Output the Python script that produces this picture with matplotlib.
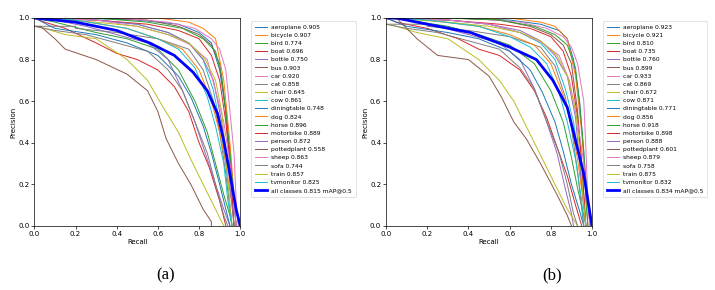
import matplotlib.pyplot as plt

names = ['aeroplane', 'bicycle', 'bird', 'boat', 'bottle', 'bus', 'car', 'cat', 'chair', 'cow',
         'diningtable', 'dog', 'horse', 'motorbike', 'person', 'pottedplant', 'sheep', 'sofa',
         'train', 'tvmonitor']

# AP per class
ap_a = [0.905, 0.907, 0.774, 0.696, 0.750, 0.903, 0.920, 0.858, 0.645, 0.861,
        0.748, 0.824, 0.896, 0.889, 0.872, 0.558, 0.863, 0.744, 0.857, 0.825]
ap_b = [0.923, 0.921, 0.810, 0.735, 0.760, 0.899, 0.933, 0.869, 0.672, 0.871,
        0.771, 0.856, 0.918, 0.898, 0.888, 0.601, 0.879, 0.758, 0.875, 0.832]
map_a = 0.815
map_b = 0.834

# (recall, precision) points
curves_a = [
    ([0, .2, .5, .7, .8, .86, .9, .93, .95, .97, .98], [1, 1, .99, .97, .93, .88, .75, .55, .35, .12, 0]),
    ([0, .3, .6, .75, .82, .88, .92, .95, .97, .98], [1, 1, 1, .98, .95, .9, .7, .4, .15, 0]),
    ([0, .1, .3, .45, .6, .7, .78, .84, .88, .92, .95, .96], [1, .98, .93, .9, .85, .75, .6, .45, .3, .15, .05, 0]),
    ([0, .05, .15, .3, .4, .5, .6, .68, .75, .8, .85, .9, .93], [1, .98, .95, .88, .83, .8, .75, .67, .55, .4, .28, .12, 0]),
    ([0, .1, .25, .4, .55, .65, .72, .78, .83, .88, .92, .95], [1, .99, .96, .92, .88, .8, .65, .5, .35, .2, .08, 0]),
    ([0, .3, .55, .7, .8, .86, .9, .93, .95, .97], [1, 1, .99, .96, .92, .87, .78, .55, .3, 0]),
    ([0, .4, .65, .78, .86, .9, .93, .95, .97, .98, .99], [1, 1, .98, .95, .9, .85, .75, .55, .35, .12, 0]),
    ([0, .2, .2, .4, .6, .75, .82, .87, .9, .93, .95, .96], [.96, .96, .95, .93, .9, .85, .75, .6, .45, .25, .08, 0]),
    ([0, .05, .15, .3, .45, .55, .62, .7, .76, .82, .87, .92], [.96, .95, .92, .9, .8, .7, .58, .45, .32, .2, .1, 0]),
    ([0, .3, .5, .65, .75, .82, .87, .9, .93, .95, .96], [1, .99, .97, .93, .88, .8, .65, .5, .3, .1, 0]),
    ([0, .1, .3, .45, .6, .7, .76, .82, .86, .9, .93, .95], [1, .95, .92, .88, .82, .72, .62, .48, .35, .2, .08, 0]),
    ([0, .2, .45, .6, .72, .8, .86, .9, .93, .96, .97], [1, .99, .95, .9, .85, .75, .6, .45, .3, .1, 0]),
    ([0, .3, .55, .72, .82, .88, .91, .93, .95, .97, .98], [1, 1, .98, .95, .9, .84, .72, .55, .35, .12, 0]),
    ([0, .3, .55, .7, .8, .86, .9, .93, .95, .97], [1, .99, .97, .94, .9, .82, .7, .5, .3, 0]),
    ([0, .3, .5, .65, .75, .82, .87, .91, .94, .96, .97], [1, .99, .97, .93, .88, .8, .7, .5, .3, .1, 0]),
    ([0, .03, .1, .15, .3, .45, .55, .6, .64, .7, .76, .82, .86, .86], [.96, .96, .9, .85, .8, .73, .65, .55, .42, .3, .2, .08, .02, 0]),
    ([0, .3, .5, .65, .76, .84, .88, .92, .95, .97, .98], [1, .99, .96, .92, .87, .8, .65, .5, .3, .1, 0]),
    ([0, .1, .25, .4, .55, .65, .72, .78, .84, .88, .92, .94], [.96, .94, .92, .88, .84, .75, .65, .5, .35, .2, .05, 0]),
    ([0, .3, .5, .65, .75, .83, .88, .91, .93, .95, .96], [1, .98, .96, .92, .88, .8, .7, .55, .35, .1, 0]),
    ([0, .2, .45, .6, .7, .78, .84, .88, .92, .94, .96], [1, .99, .95, .9, .85, .76, .62, .48, .3, .12, 0]),
]
all_a = ([0, .2, .4, .56, .68, .77, .84, .89, .92, .95, .98, 1.0],
         [1, .98, .94, .88, .82, .74, .65, .54, .41, .25, .08, 0])

# (recall, precision) points
curves_b = [
    ([0, .3, .6, .75, .84, .88, .91, .94, .96, .98, .99], [1, 1, .99, .97, .94, .9, .8, .6, .35, .12, 0]),
    ([0, .3, .6, .75, .82, .88, .92, .95, .97, .98], [1, 1, 1, .98, .96, .9, .72, .45, .18, 0]),
    ([0, .1, .3, .45, .6, .72, .8, .86, .9, .93, .96, .97], [1, .99, .96, .92, .87, .78, .65, .5, .33, .18, .05, 0]),
    ([0, .05, .2, .35, .45, .55, .65, .72, .78, .83, .88, .92, .95], [1, .98, .95, .9, .85, .82, .75, .65, .52, .38, .24, .1, 0]),
    ([0, .1, .25, .4, .55, .65, .72, .78, .83, .87, .9, .91], [1, .99, .96, .92, .88, .8, .66, .5, .35, .18, .06, 0]),
    ([0, .3, .55, .7, .8, .86, .9, .93, .95, .97], [1, 1, .99, .96, .92, .87, .78, .55, .3, 0]),
    ([0, .4, .65, .78, .86, .9, .93, .96, .97, .98, .99], [1, 1, .98, .95, .91, .86, .78, .6, .38, .12, 0]),
    ([0, .2, .2, .4, .6, .75, .82, .87, .9, .93, .95, .96], [.97, .97, .96, .94, .91, .86, .77, .62, .47, .26, .08, 0]),
    ([0, .05, .15, .3, .45, .55, .62, .7, .76, .82, .88, .93], [.97, .96, .93, .9, .8, .7, .6, .44, .32, .2, .08, 0]),
    ([0, .3, .5, .65, .75, .82, .87, .91, .94, .96, .97], [1, .99, .97, .93, .88, .8, .66, .5, .3, .1, 0]),
    ([0, .1, .3, .45, .6, .7, .76, .82, .86, .9, .94, .96], [1, .96, .93, .9, .84, .75, .64, .5, .36, .2, .07, 0]),
    ([0, .2, .45, .6, .72, .8, .86, .9, .93, .96, .97], [1, .99, .96, .92, .87, .78, .63, .48, .32, .1, 0]),
    ([0, .3, .55, .72, .82, .88, .92, .94, .96, .97, .98], [1, 1, .99, .96, .92, .87, .76, .58, .36, .12, 0]),
    ([0, .3, .55, .7, .8, .86, .9, .93, .95, .97], [1, .99, .97, .95, .91, .84, .72, .52, .3, 0]),
    ([0, .3, .5, .65, .75, .82, .88, .92, .94, .96, .97], [1, .99, .97, .94, .89, .82, .72, .52, .3, .1, 0]),
    ([0, .05, .1, .15, .25, .4, .5, .56, .62, .68, .75, .83, .88, .9], [1, 1, .95, .9, .82, .8, .72, .62, .5, .42, .3, .15, .05, 0]),
    ([0, .3, .5, .65, .76, .84, .89, .93, .96, .98, .99], [1, .99, .97, .93, .88, .82, .7, .5, .3, .1, 0]),
    ([0, .1, .25, .4, .55, .65, .72, .78, .84, .88, .91, .93], [.97, .95, .93, .89, .85, .76, .66, .5, .35, .2, .06, 0]),
    ([0, .3, .5, .65, .75, .83, .88, .92, .94, .96, .97], [1, .98, .96, .93, .89, .82, .72, .56, .36, .1, 0]),
    ([0, .2, .45, .6, .7, .78, .84, .88, .92, .95, .96], [1, .99, .96, .91, .86, .78, .64, .5, .32, .12, 0]),
]
all_b = ([0, .05, .2, .41, .6, .73, .81, .88, .92, .96, .99, 1.0],
         [1, 1, .97, .93, .86, .8, .7, .57, .41, .25, .06, 0])

panels = [(curves_a, ap_a, all_a, map_a), (curves_b, ap_b, all_b, map_b)]
lefts = [0.048, 0.540]
tags = ['(a)', '(b)']
tag_x = [0.231, 0.772]

fig = plt.figure(figsize=(7.15, 2.9), dpi=100)

for (curves, ap, all_c, m), left in zip(panels, lefts):
    ax = fig.add_axes([left, 0.221, 0.288, 0.717])
    for i, (r, p) in enumerate(curves):
        ax.plot(r, p, linewidth=0.7, color=f'C{i % 10}', label=f'{names[i]} {ap[i]:.3f}')
    ax.plot(all_c[0], all_c[1], linewidth=2, color='blue', label=f'all classes {m:.3f} mAP@0.5')
    ax.set_xlim(0, 1)
    ax.set_ylim(0, 1)
    ax.set_xlabel('Recall', fontsize=5, labelpad=1.5)
    ax.set_ylabel('Precision', fontsize=5, labelpad=1.5)
    ax.tick_params(labelsize=5, length=2, width=0.5, pad=1.5)
    for s in ax.spines.values():
        s.set_linewidth(0.5)
    leg = ax.legend(bbox_to_anchor=(1.04, 1), loc='upper left', fontsize=4.3,
                    labelspacing=0.5, handlelength=2.0, handletextpad=0.7, borderpad=0.6)
    leg.get_frame().set_linewidth(0.5)

for t, x in zip(tags, tag_x):
    fig.text(x, 0.035, t, fontsize=12, family='Liberation Serif', ha='center')

fig.savefig('out.png', dpi=100)
